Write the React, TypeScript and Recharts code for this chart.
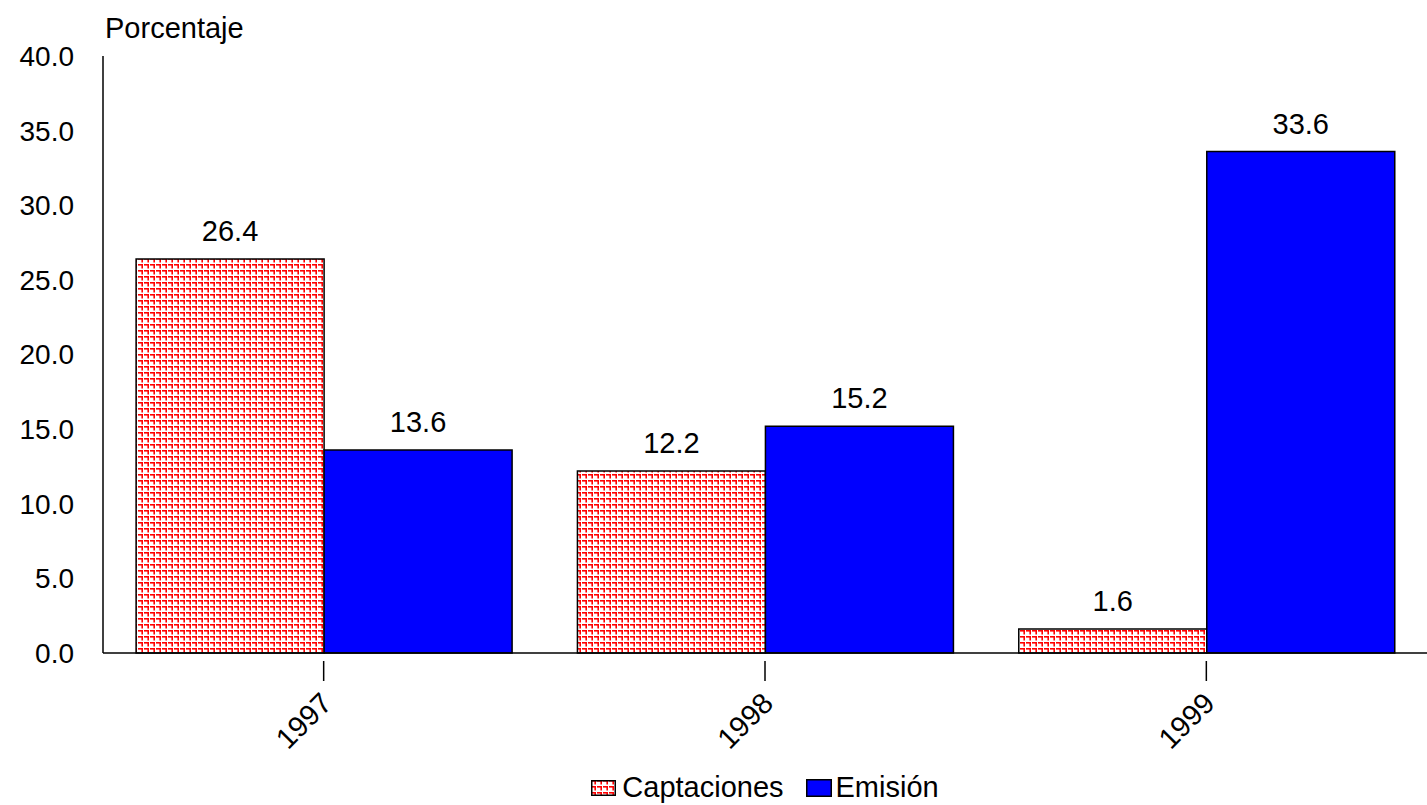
import React from 'react'
import {
  BarChart,
  Bar,
  XAxis,
  YAxis,
  Legend,
  LabelList,
} from 'recharts'

const years = ['1997', '1998', '1999']
const captaciones = [26.4, 12.2, 1.6]
const emision = [13.6, 15.2, 33.6]
const yTicks = [0, 5, 10, 15, 20, 25, 30, 35, 40]

const data = years.map((year, i) => ({
  year,
  captaciones: captaciones[i],
  emision: emision[i],
}))

const FONT = '"Liberation Sans", Arial, sans-serif'
const W = 1427
const H = 805
const Y_AXIS_W = 103

// red "┐" hatch used for the Captaciones fill
function CapPattern({ id }: { id: string }) {
  return (
    <pattern id={id} width={6} height={6} patternUnits="userSpaceOnUse">
      <rect width={6} height={6} fill="#fff" />
      <rect x={0} y={0} width={5} height={1.6} fill="#ff0000" />
      <rect x={3.4} y={0} width={1.6} height={4.5} fill="#ff0000" />
    </pattern>
  )
}

function XTick(props: any) {
  const { x, y, payload } = props
  return (
    <g transform={`translate(${x},${y})`}>
      <line x1={0} y1={0} x2={0} y2={20} stroke="#000" strokeWidth={1.5} />
      <text
        x={10}
        y={44}
        textAnchor="end"
        fontSize={29}
        fontFamily={FONT}
        fill="#000"
        transform="rotate(-45 10 44)"
      >
        {payload.value}
      </text>
    </g>
  )
}

// legend is centred under the plot area, not the whole chart
function LegendContent() {
  return (
    <div
      style={{
        display: 'flex',
        justifyContent: 'center',
        alignItems: 'center',
        fontFamily: FONT,
        fontSize: 29,
        color: '#000',
        paddingTop: 4,
        paddingLeft: Y_AXIS_W,
      }}
    >
      <svg width={25} height={16} style={{ marginRight: 6 }}>
        <defs>
          <CapPattern id="capLegend" />
        </defs>
        <rect x={0.75} y={0.75} width={23.5} height={14.5} fill="url(#capLegend)" stroke="#000" strokeWidth={1.5} />
      </svg>
      <span style={{ marginRight: 22 }}>Captaciones</span>
      <svg width={26} height={18} style={{ marginRight: 4 }}>
        <rect x={0.75} y={0.75} width={24.5} height={16.5} fill="#0000ff" stroke="#000" strokeWidth={1.5} />
      </svg>
      <span>Emisión</span>
    </div>
  )
}

export default function App() {
  return (
    <div style={{ position: 'absolute', top: 0, left: 0, width: W, height: H, background: '#fff' }}>
      <BarChart
        width={W}
        height={H}
        data={data}
        margin={{ top: 56, right: 0, left: 0, bottom: 0 }}
        barCategoryGap="7.5%"
        barGap={0}
      >
        <defs>
          <CapPattern id="capPattern" />
        </defs>
        <XAxis
          dataKey="year"
          height={114}
          axisLine={{ stroke: '#000', strokeWidth: 1.5 }}
          tickLine={false}
          tick={<XTick />}
          interval={0}
        />
        <XAxis
          xAxisId="top"
          orientation="top"
          dataKey="year"
          height={0}
          axisLine={{ stroke: '#000', strokeWidth: 1.5 }}
          tick={false}
          tickLine={false}
        />
        <YAxis
          width={Y_AXIS_W}
          domain={[0, 40]}
          ticks={yTicks}
          interval={0}
          tickSize={0}
          tickMargin={29}
          axisLine={{ stroke: '#000', strokeWidth: 1.5 }}
          tickLine={false}
          tick={{ fontSize: 28, fontFamily: FONT, fill: '#000' }}
          tickFormatter={(v: number) => v.toFixed(1)}
          label={{
            content: () => (
              <text x={105} y={38} fontSize={29} fontFamily={FONT} fill="#000">
                Porcentaje
              </text>
            ),
          }}
        />
        <YAxis
          yAxisId="right"
          orientation="right"
          width={0}
          domain={[0, 40]}
          axisLine={{ stroke: '#000', strokeWidth: 1.5 }}
          tick={false}
          tickLine={false}
        />
        <Legend verticalAlign="bottom" height={38} content={<LegendContent />} />
        <Bar
          dataKey="captaciones"
          name="Captaciones"
          fill="url(#capPattern)"
          stroke="#000"
          strokeWidth={1.5}
          isAnimationActive={false}
        >
          <LabelList
            dataKey="captaciones"
            position="top"
            offset={18}
            formatter={(v: any) => Number(v).toFixed(1)}
            style={{ fontSize: 29, fontFamily: FONT, fill: '#000' }}
          />
        </Bar>
        <Bar
          dataKey="emision"
          name="Emisión"
          fill="#0000ff"
          stroke="#000"
          strokeWidth={1.5}
          isAnimationActive={false}
        >
          <LabelList
            dataKey="emision"
            position="top"
            offset={18}
            formatter={(v: any) => Number(v).toFixed(1)}
            style={{ fontSize: 29, fontFamily: FONT, fill: '#000' }}
          />
        </Bar>
      </BarChart>
    </div>
  )
}
